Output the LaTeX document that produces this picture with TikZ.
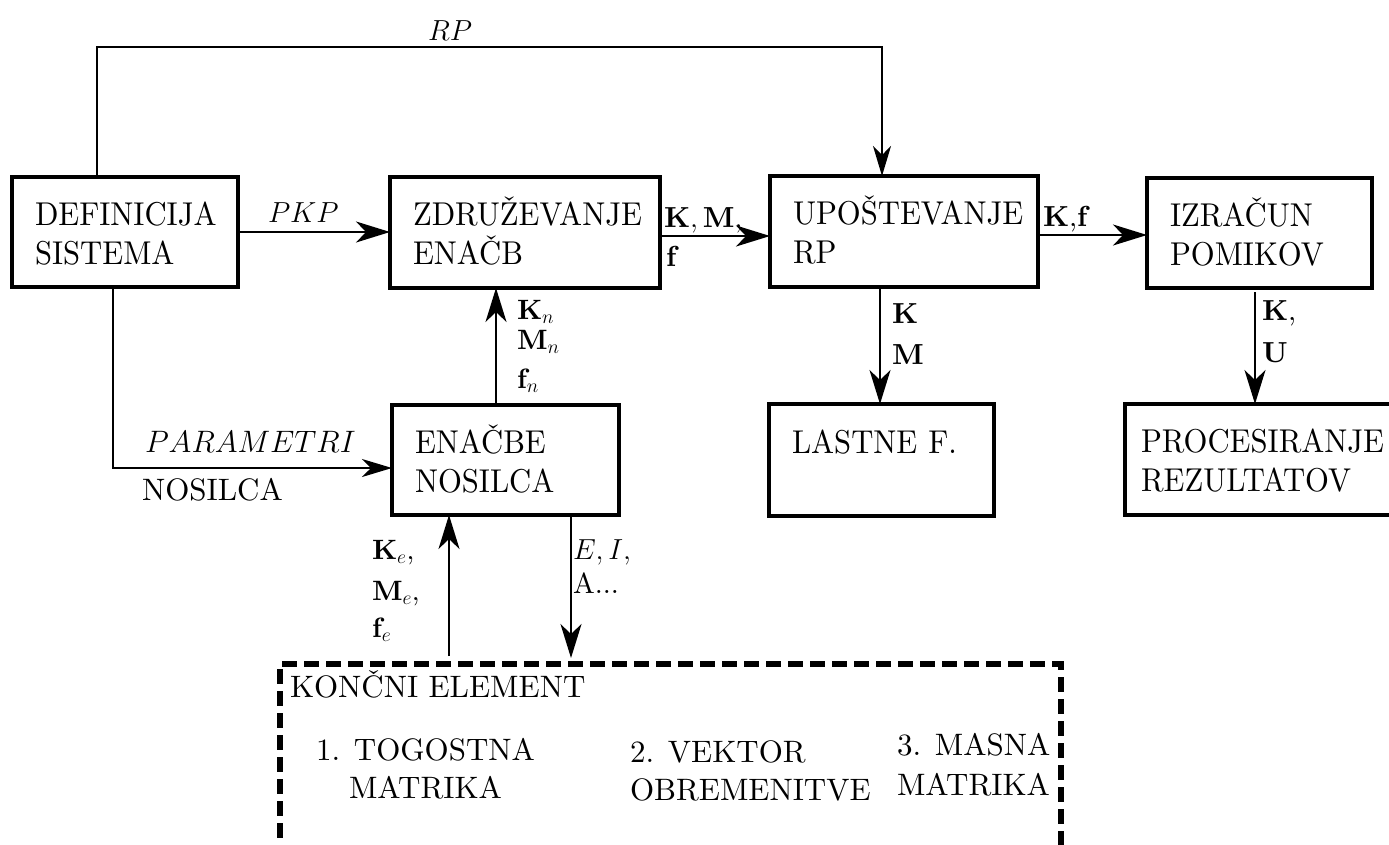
\RequirePackage{fix-cm}
\documentclass[tikz,border=0pt]{standalone}
\usepackage{fontspec}
\setmainfont{lmroman10-regular.otf}[BoldFont=lmroman10-bold.otf, ItalicFont=lmroman10-italic.otf]
\newfontfamily\condfont{lmroman10-regular.otf}[FakeStretch=0.93]
\usepackage{graphicx}
\usetikzlibrary{arrows.meta}
\newcommand{\boxfont}{\condfont\fontsize{33}{39}\selectfont\hyphenpenalty=10000 }
\newcommand{\labfont}{\fontsize{29}{35}\selectfont}
\newcommand{\smfont}{\fontsize{28}{34}\selectfont}
\tikzset{
  box/.style={draw, line width=4pt, outer sep=0pt, inner xsep=23pt, inner ysep=0pt,
    align=left, font=\boxfont, text height=30pt, text depth=44pt},
  lab/.style={inner sep=0pt, outer sep=0pt, anchor=base west, font=\labfont},
  smlab/.style={lab, font=\smfont},
  boxtxt/.style={lab, font=\fontsize{31}{39}\selectfont},
  arr/.style={line width=2pt, -{Stealth[length=34pt, width=21pt, inset=10pt]}},
  arrthin/.style={line width=1.6pt, -{Stealth[length=30pt, width=18pt, inset=9pt]}},
  dashbox/.style={draw, line width=6pt, dash pattern=on 15pt off 7pt, outer sep=0pt, inner sep=0pt},
}
\begin{document}
\begin{tikzpicture}[x=1pt,y=-1pt]
\useasboundingbox (0,0) rectangle (1389,844);

% boxes
\node[box, text width=180pt, minimum height=110pt] (def) at (125,232) {DEFINICIJA\\SISTEMA};
\node[box, text width=224pt, minimum height=111pt] (zdr) at (525,232.5) {ZDRUŽEVANJE\\ENAČB};
\node[box, text width=222pt, minimum height=111pt] (upo) at (904,231.5) {UPOŠTEVANJE\\RP};
\node[box, text width=179pt, minimum height=110pt] (izr) at (1259.5,233) {IZRAČUN\\POMIKOV};
\node[box, text width=179pt, minimum height=112pt] (las) at (881.5,460) {LASTNE F.};
\node[box, inner xsep=16pt, text width=248pt, minimum height=111pt] (pro) at (1265,459.5) {PROCESIRANJE\\REZULTATOV};
\node[box, text width=181pt, minimum height=110pt] (ena) at (505.5,460) {ENAČBE\\NOSILCA};
\node[dashbox, minimum width=781.5pt, minimum height=236pt] (fe) at (670.25,782) {};

% texts in the finite element box
\node[boxtxt] (fet) at (290,697) {KONČNI ELEMENT};
\node[boxtxt] (i1a) at (316,760) {1. TOGOSTNA};
\node[boxtxt] (i1b) at (349,798) {MATRIKA};
\node[boxtxt] (i2a) at (630,762) {2. VEKTOR};
\node[boxtxt] (i2b) at (630,800) {OBREMENITVE};
\node[boxtxt] (i3a) at (897,755) {3. MASNA};
\node[boxtxt] (i3b) at (897,795) {MATRIKA};

% helper coordinates
\coordinate (rp1) at (97,47);
\coordinate (rp2) at (882,47);
\coordinate (pk) at (113,468);
\coordinate (kmf) at (660,236);
\coordinate (kf) at (1038,235);
\coordinate (knx) at (496,400);
\coordinate (kmx) at (880,300);
\coordinate (kub) at (1255,292);
\coordinate (keb) at (449,656);
\coordinate (eib) at (571,658);

% connectors
\draw[arrthin] (def.north -| rp1) -- (rp1) -- (rp2) -- (upo.north -| rp2);
\draw[arr] (def.east) -- (def.east -| zdr.west);
\draw[arr] (zdr.east |- kmf) -- (upo.west |- kmf);
\draw[arr] (upo.east |- kf) -- (izr.west |- kf);
\draw[arr] (upo.south -| kmx) -- (las.north -| kmx);
\draw[arr] (kub) -- (pro.north -| kub);
\draw[arr] (ena.north -| knx) -- (zdr.south -| knx);
\draw[arrthin] (def.south -| pk) -- (pk) -- (pk -| ena.west);
\draw[arr] (keb) -- (ena.south -| keb);
\draw[arr] (ena.south -| eib) -- (eib);

% labels
\node[lab] (lrp) at (428,40) {$RP$};
\node[lab] (lpkp) at (268,222) {$PKP$};
\node[lab] (lkm) at (664,227) {$\mathbf{K},\mathbf{M},$};
\node[lab] (lf) at (666,266) {$\mathbf{f}$};
\node[lab] (lkf) at (1043,226) {$\mathbf{K}$,$\mathbf{f}$};
\node[lab] (lk2) at (892,323) {$\mathbf{K}$};
\node[lab] (lm2) at (892,364) {$\mathbf{M}$};
\node[lab] (lk3) at (1262,320) {$\mathbf{K}$,};
\node[lab] (lu3) at (1262,362) {$\mathbf{U}$};
\node[smlab] (lkn) at (517,319) {$\mathbf{K}_n$};
\node[smlab] (lmn) at (517,349) {$\mathbf{M}_n$};
\node[smlab] (lfn) at (517,388) {$\mathbf{f}_n$};
\node[smlab] (lke) at (372,559) {$\mathbf{K}_e$,};
\node[smlab] (lme) at (372,600) {$\mathbf{M}_e$,};
\node[smlab] (lfe) at (372,637) {$\mathbf{f}_e$};
\node[lab] (lei) at (573,559) {$E,I,$};
\node[lab] (la) at (573,593) {A...};
\node[lab, font=\fontsize{31}{37}\selectfont] (lpar) at (145,452) {$PARAMETRI$};
\node[boxtxt] (lnos) at (142,500) {NOSILCA};
\end{tikzpicture}
\end{document}
